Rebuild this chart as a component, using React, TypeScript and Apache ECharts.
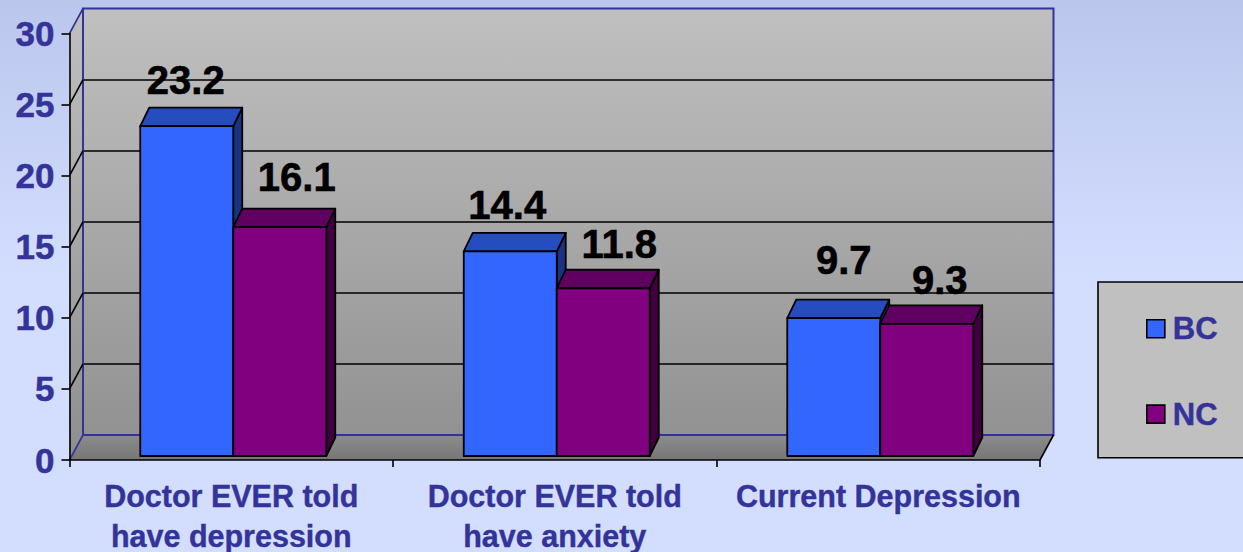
import React, { useEffect, useRef } from "react";
import * as echarts from "echarts";

const categories = ["Doctor EVER told\nhave depression", "Doctor EVER told\nhave anxiety", "Current Depression"];
const bcValues = [23.2, 14.4, 9.7];
const ncValues = [16.1, 11.8, 9.3];
const yLevels = [5, 10, 15, 20, 25, 30];

const INK = "#333399";
const FONT = '"Liberation Sans", Arial, sans-serif';
const WALL_DX = 13.5;
const WALL_DY = -25;
const BAR_DX = 9;
const BAR_DY = -18.5;
const BAR_SHIFT_X = 2;
const BAR_SHIFT_Y = -4;
// hand placement of the value labels, relative to the bar's front top centre
const bcLabelNudge = [[-1, -46], [-3, -46], [10, -58]];
const ncLabelNudge = [[17, -50], [16, -44], [13, -44]];

const grad = (stops: [number, string][]) =>
  new echarts.graphic.LinearGradient(0, 0, 0, 1, stops.map(([offset, color]) => ({ offset, color })));

function barRenderer(side: -1 | 1, front: string, top: string, dark: string, nudge: number[][]) {
  return (params: any, api: any) => {
    const i = api.value(0);
    const v = api.value(1);
    const band = api.size([1, 0])[0];
    const w = band * 0.2875;
    const [cx, yTop] = api.coord([i, v]);
    const yBase = api.coord([i, 0])[1] + BAR_SHIFT_Y;
    const yT = yTop + BAR_SHIFT_Y;
    const mid = cx + BAR_SHIFT_X;
    const x0 = side < 0 ? mid - w : mid;
    const x1 = x0 + w;
    const line = { stroke: "#000", lineWidth: 1.8, lineJoin: "round" };
    return {
      type: "group",
      children: [
        {
          type: "polygon",
          shape: { points: [[x1, yT], [x1 + BAR_DX, yT + BAR_DY], [x1 + BAR_DX, yBase + BAR_DY], [x1, yBase]] },
          style: { fill: dark, ...line },
        },
        {
          type: "polygon",
          shape: { points: [[x0, yT], [x0 + BAR_DX, yT + BAR_DY], [x1 + BAR_DX, yT + BAR_DY], [x1, yT]] },
          style: { fill: top, ...line },
        },
        {
          type: "rect",
          shape: { x: x0, y: yT, width: w, height: yBase - yT },
          style: { fill: front, ...line },
        },
        {
          type: "text",
          z2: 100,
          x: (x0 + x1) / 2 + nudge[i][0],
          y: yT + nudge[i][1],
          style: {
            text: v.toFixed(1),
            fill: "#000",
            stroke: "#000",
            lineWidth: 0.6,
            fontFamily: FONT,
            fontWeight: "bold",
            fontSize: 40,
            align: "center",
            verticalAlign: "middle",
          },
        },
      ],
    };
  };
}

function wallRenderer(params: any, api: any) {
  const v = api.value(0);
  const { x } = params.coordSys;
  const y = api.coord([0, v])[1];
  return {
    type: "line",
    shape: { x1: x, y1: y, x2: x + WALL_DX, y2: y + WALL_DY },
    style: { stroke: v === 30 ? INK : "#000", lineWidth: 1.6 },
  };
}

function shellRenderer(params: any, api: any) {
  const { x, y, width, height } = params.coordSys;
  const b = y + height;
  const blue = { stroke: INK, lineWidth: 2 };
  return {
    type: "group",
    children: [
      {
        type: "polygon",
        shape: { points: [[x, y], [x + WALL_DX, y + WALL_DY], [x + WALL_DX, b + WALL_DY], [x, b]] },
        style: { fill: grad([[0, "#c0c0c0"], [1, "#8e8e8e"]]) },
      },
      {
        type: "polygon",
        shape: { points: [[x, b], [x + WALL_DX, b + WALL_DY], [x + width + WALL_DX, b + WALL_DY], [x + width, b]] },
        style: { fill: grad([[0, "#8c8c8c"], [1, "#767676"]]) },
      },
      {
        type: "line",
        shape: { x1: x + WALL_DX, y1: y + WALL_DY, x2: x + WALL_DX, y2: b + WALL_DY },
        style: blue,
      },
      {
        type: "line",
        shape: { x1: x + WALL_DX, y1: b + WALL_DY, x2: x + width + WALL_DX, y2: b + WALL_DY },
        style: blue,
      },
      {
        type: "line",
        shape: { x1: x, y1: b, x2: x + WALL_DX, y2: b + WALL_DY },
        style: { stroke: INK, lineWidth: 1.6 },
      },
      {
        type: "line",
        shape: { x1: x + width, y1: b, x2: x + width + WALL_DX, y2: b + WALL_DY },
        style: { stroke: "#000", lineWidth: 1.6 },
      },
    ],
  };
}

export default function App() {
  const ref = useRef<HTMLDivElement>(null);
  useEffect(() => {
    const chart = echarts.init(ref.current!, undefined, { renderer: "svg" });
    const bar = (name: string, values: number[], side: -1 | 1, front: string, top: string, dark: string, nudge: number[][]) => ({
      name,
      type: "custom",
      xAxisIndex: 0,
      yAxisIndex: 0,
      z: 3,
      clip: false,
      itemStyle: { color: front },
      encode: { x: 0, y: 1 },
      data: values.map((v, i) => [i, v]),
      renderItem: barRenderer(side, front, top, dark, nudge),
    });
    chart.setOption({
      animation: false,
      backgroundColor: grad([[0, "#bac6ec"], [0.5, "#d3deff"], [1, "#d3deff"]]),
      textStyle: { fontFamily: FONT },
      grid: [
        { left: 69.5, top: 33.5, width: 970.5, height: 426.5, outerBoundsMode: "none" },
        {
          left: 83,
          top: 8.5,
          width: 970.5,
          height: 426.5,
          outerBoundsMode: "none",
          show: true,
          backgroundColor: grad([[0, "#c0c0c0"], [1, "#929292"]]),
          borderColor: INK,
          borderWidth: 2,
        },
      ],
      xAxis: [
        {
          type: "category",
          gridIndex: 0,
          data: categories,
          z: 5,
          axisLine: { lineStyle: { color: "#000", width: 1.6 } },
          axisTick: { show: true, length: 7, lineStyle: { color: "#000", width: 1.6 } },
          axisLabel: {
            color: INK,
            fontFamily: FONT,
            fontWeight: "bold",
            fontSize: 30.5,
            lineHeight: 40,
            margin: 16,
            interval: 0,
            textBorderColor: INK,
            textBorderWidth: 0.4,
          },
          splitLine: { show: false },
        },
        {
          type: "category",
          gridIndex: 1,
          data: categories,
          axisLine: { show: false },
          axisTick: { show: false },
          axisLabel: { show: false },
          splitLine: { show: false },
        },
      ],
      yAxis: [
        {
          type: "value",
          gridIndex: 0,
          min: 0,
          max: 30,
          interval: 5,
          z: 5,
          axisLine: { show: true, lineStyle: { color: "#000", width: 1.6 } },
          axisTick: { show: true, length: 8, lineStyle: { color: "#000", width: 1.6 } },
          axisLabel: {
            color: INK,
            fontFamily: FONT,
            fontWeight: "bold",
            fontSize: 35,
            margin: 15,
            textBorderColor: INK,
            textBorderWidth: 0.5,
          },
          splitLine: { show: false },
        },
        {
          type: "value",
          gridIndex: 1,
          min: 0,
          max: 30,
          interval: 5,
          axisLine: { show: false },
          axisTick: { show: false },
          axisLabel: { show: false },
          splitLine: { show: true, showMinLine: false, showMaxLine: false, lineStyle: { color: "#000", width: 1.6 } },
        },
      ],
      legend: {
        data: ["BC", "NC"],
        orient: "vertical",
        left: 1098,
        top: 282,
        padding: [31, 60, 28, 48],
        itemGap: 54,
        itemWidth: 18,
        itemHeight: 18,
        icon: "rect",
        backgroundColor: "#c0c0c0",
        borderColor: "#000",
        borderWidth: 1.6,
        itemStyle: { borderColor: "#000", borderWidth: 1.6 },
        textStyle: {
          color: INK,
          fontFamily: FONT,
          fontWeight: "bold",
          fontSize: 31,
          padding: [0, 0, 0, 3],
          textBorderColor: INK,
          textBorderWidth: 0.4,
        },
        selectedMode: false,
      },
      series: [
        {
          name: "shell",
          type: "custom",
          xAxisIndex: 0,
          yAxisIndex: 0,
          z: 1,
          clip: false,
          data: [[0, 0]],
          encode: { x: 0, y: 1 },
          renderItem: shellRenderer,
        },
        {
          name: "levels",
          type: "custom",
          xAxisIndex: 0,
          yAxisIndex: 0,
          z: 2,
          clip: false,
          data: yLevels.map((v) => [v]),
          encode: { y: 0 },
          renderItem: wallRenderer,
        },
        bar("BC", bcValues, -1, "#3366ff", "#264dbf", "#1a3380", bcLabelNudge),
        bar("NC", ncValues, 1, "#800080", "#600060", "#400040", ncLabelNudge),
      ],
    });
    return () => chart.dispose();
  }, []);
  return <div ref={ref} style={{ position: "fixed", left: 0, top: 0, width: 1243, height: 552 }} />;
}
